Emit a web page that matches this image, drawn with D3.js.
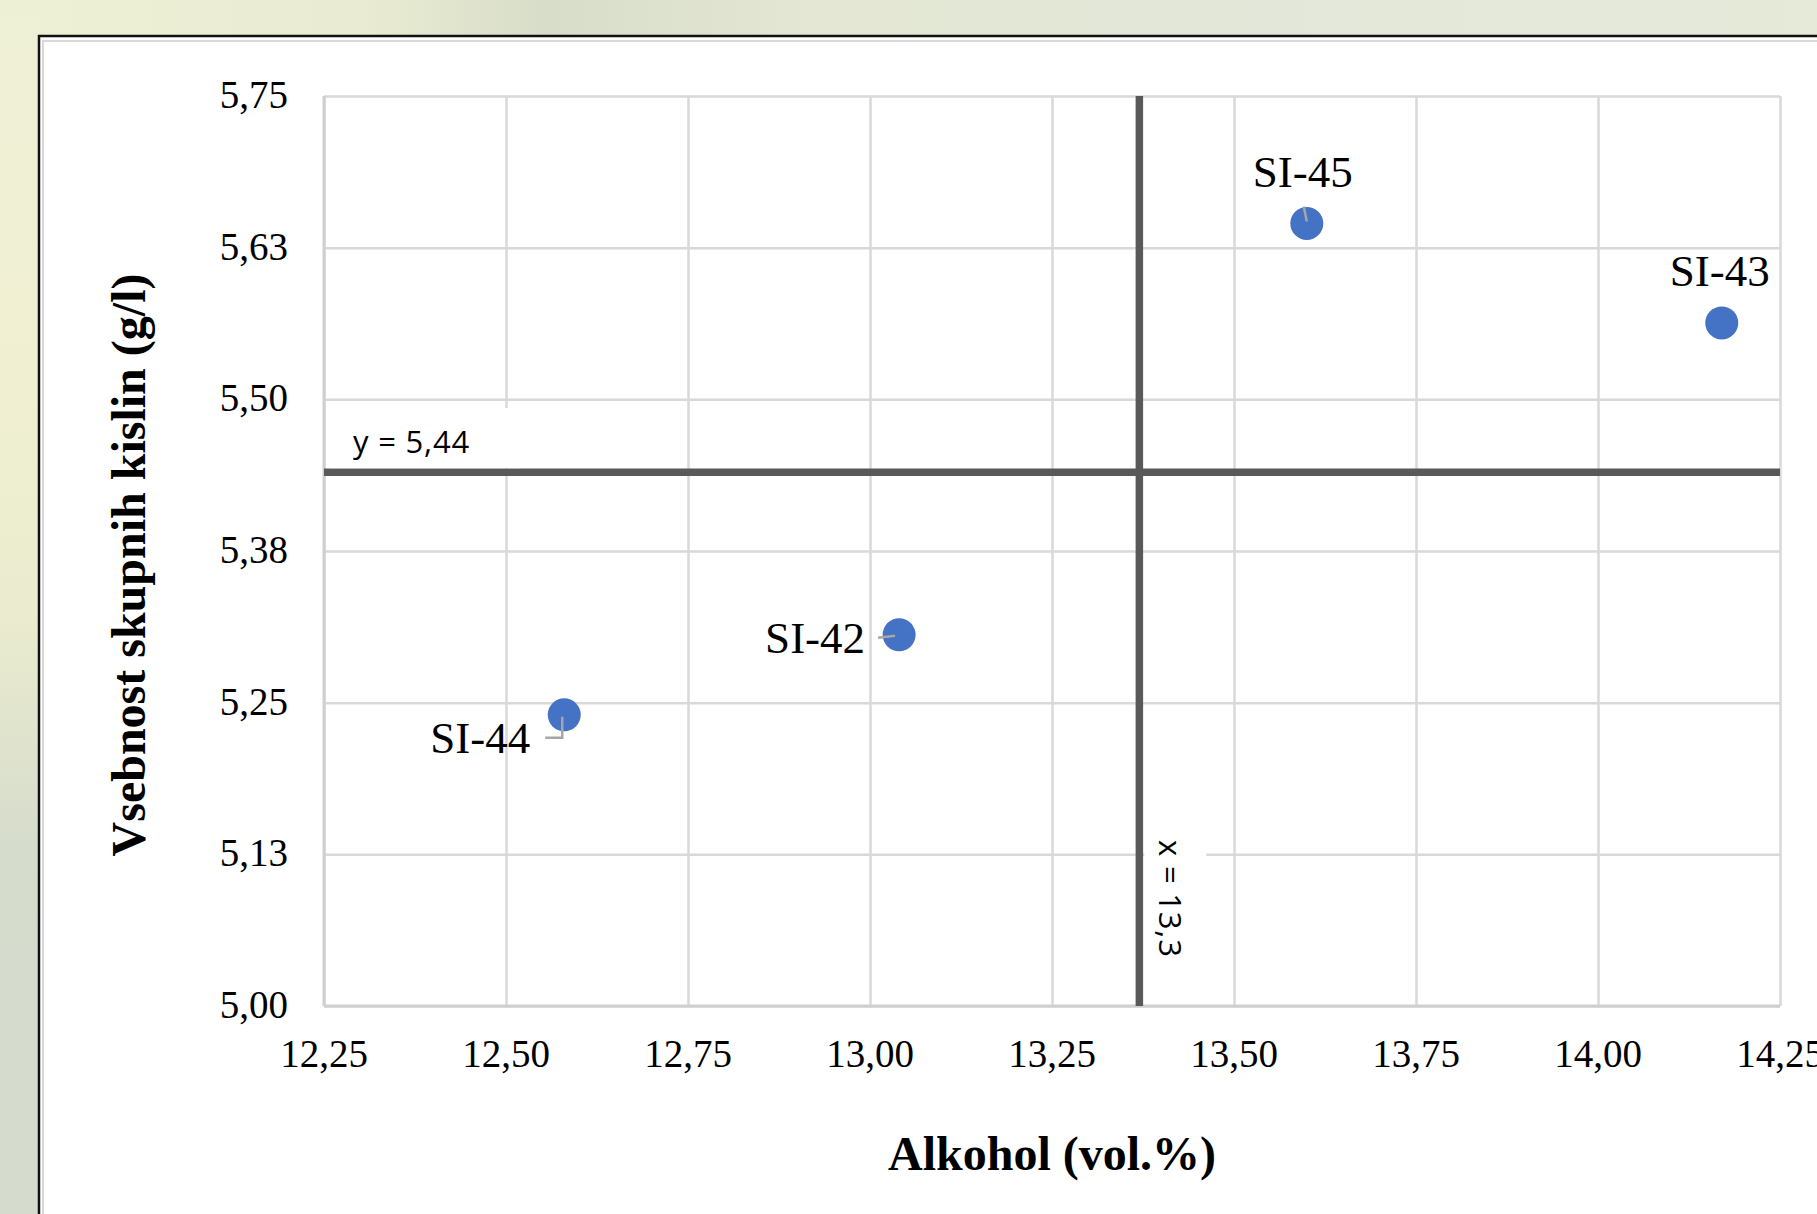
<!DOCTYPE html>
<html>
<head>
<meta charset="utf-8">
<script src="https://cdn.jsdelivr.net/npm/d3@7"></script>
<style>
  html, body { margin: 0; padding: 0; background: #e4e8d8; overflow: hidden; }
  svg { display: block; }
</style>
</head>
<body>
<svg id="chart" width="1817" height="1214"></svg>
<script>
// ---- data ----
const sampleNames = ["SI-45", "SI-43", "SI-42", "SI-44"];
const alcoholValues = [13.60, 14.17, 13.04, 12.58];
const acidValues = [5.645, 5.563, 5.306, 5.240];
const xTickValues = [12.25, 12.50, 12.75, 13.00, 13.25, 13.50, 13.75, 14.00, 14.25];
const xTickLabels = ["12,25", "12,50", "12,75", "13,00", "13,25", "13,50", "13,75", "14,00", "14,25"];
const yTickValues = [5.00, 5.125, 5.25, 5.375, 5.50, 5.625, 5.75];
const yTickLabels = ["5,00", "5,13", "5,25", "5,38", "5,50", "5,63", "5,75"];
const refX = 13.37, refXLabel = "x = 13,3";
const refY = 5.44, refYLabel = "y = 5,44";
const xTitle = "Alkohol (vol.%)";
const yTitle = "Vsebnost skupnih kislin (g/l)";

// ---- layout ----
const W = 1817, H = 1214;
const plot = { left: 324, top: 96, right: 1780, bottom: 1006 };
const serif = "'Liberation Serif', 'Times New Roman', serif";
const sans = "'Open Sans', 'Liberation Sans', sans-serif";

const svg = d3.select("#chart");
const defs = svg.append("defs");

// blurred photo-like background
const gTop = defs.append("linearGradient").attr("id", "bgTop").attr("x1", 0).attr("x2", 1).attr("y1", 0).attr("y2", 0);
[["0%", "#eef0d6"], ["20%", "#e9ecd2"], ["30%", "#d8ddc9"], ["45%", "#e3e7d3"], ["70%", "#e2e7d9"], ["100%", "#e6ead9"]]
  .forEach(([o, c]) => gTop.append("stop").attr("offset", o).attr("stop-color", c));
const gLeft = defs.append("linearGradient").attr("id", "bgLeft").attr("x1", 0).attr("x2", 0).attr("y1", 0).attr("y2", 1);
[["0%", "#eef0d6"], ["30%", "#f0efd2"], ["50%", "#ebeccf"], ["70%", "#d6dccc"], ["100%", "#d5dbcd"]]
  .forEach(([o, c]) => gLeft.append("stop").attr("offset", o).attr("stop-color", c));

svg.append("rect").attr("x", 0).attr("y", 0).attr("width", W).attr("height", H).attr("fill", "url(#bgTop)");
svg.append("rect").attr("x", 0).attr("y", 0).attr("width", 40).attr("height", H).attr("fill", "url(#bgLeft)");

// chart frame
svg.append("rect").attr("x", 39).attr("y", 36).attr("width", W).attr("height", H)
  .attr("fill", "#ffffff").attr("stroke", "#111").attr("stroke-width", 2.5);
svg.append("rect").attr("x", 43).attr("y", 41).attr("width", W).attr("height", H)
  .attr("fill", "none").attr("stroke", "#d9d9d9").attr("stroke-width", 2);

// scales
const x = d3.scaleLinear().domain([12.25, 14.25]).range([plot.left, plot.right]);
const y = d3.scaleLinear().domain([5.00, 5.75]).range([plot.bottom, plot.top]);

// gridlines via axes
const gridColor = "#d9d9d9";
const gx = svg.append("g").attr("transform", `translate(0,${plot.bottom})`)
  .call(d3.axisBottom(x).tickValues(xTickValues).tickSize(-(plot.bottom - plot.top)).tickFormat(""));
const gy = svg.append("g").attr("transform", `translate(${plot.left},0)`)
  .call(d3.axisLeft(y).tickValues(yTickValues).tickSize(-(plot.right - plot.left)).tickFormat(""));
[gx, gy].forEach(g => {
  g.select(".domain").remove();
  g.selectAll(".tick line").attr("stroke", gridColor).attr("stroke-width", 2.5);
});
// axis base lines (slightly darker)
svg.append("line").attr("x1", x(12.25)).attr("x2", x(14.25)).attr("y1", y(5.0)).attr("y2", y(5.0))
  .attr("stroke", "#cfcfcf").attr("stroke-width", 3);
svg.append("line").attr("x1", x(12.25)).attr("x2", x(12.25)).attr("y1", y(5.0)).attr("y2", y(5.75))
  .attr("stroke", "#cfcfcf").attr("stroke-width", 3);

// tick labels
svg.append("g").selectAll("text").data(xTickValues).join("text")
  .attr("x", d => x(d)).attr("y", 1067)
  .attr("text-anchor", "middle").attr("font-family", serif).attr("font-size", 39).attr("fill", "#000")
  .text((d, i) => xTickLabels[i]);
svg.append("g").selectAll("text").data(yTickValues).join("text")
  .attr("x", 288).attr("y", d => y(d) + 12)
  .attr("text-anchor", "end").attr("font-family", serif).attr("font-size", 39).attr("fill", "#000")
  .text((d, i) => yTickLabels[i]);

// reference lines
const refColor = "#595959";
svg.append("line").attr("x1", x(12.25)).attr("x2", x(14.25)).attr("y1", y(refY)).attr("y2", y(refY))
  .attr("stroke", refColor).attr("stroke-width", 7.5);
svg.append("line").attr("x1", x(refX)).attr("x2", x(refX)).attr("y1", y(5.75)).attr("y2", y(5.0))
  .attr("stroke", refColor).attr("stroke-width", 7.5);

// reference labels with white boxes
svg.append("rect").attr("x", x(12.25) + 6).attr("y", y(refY) - 64).attr("width", 190).attr("height", 60).attr("fill", "#fff");
svg.append("text").attr("x", x(12.25) + 29).attr("y", y(refY) - 19)
  .attr("font-family", sans).attr("font-size", 31).attr("letter-spacing", 0.8).attr("fill", "#000").text(refYLabel);

svg.append("rect").attr("x", x(refX) + 5).attr("y", 832).attr("width", 62).attr("height", 150).attr("fill", "#fff");
svg.append("text").attr("transform", `translate(${x(refX) + 20},${840}) rotate(90)`)
  .attr("font-family", sans).attr("font-size", 31).attr("letter-spacing", 0.8).attr("fill", "#000").text(refXLabel);

// points
const pts = sampleNames.map((n, i) => ({ name: n, xv: alcoholValues[i], yv: acidValues[i] }));
// label placement (pixel offsets from point center)
const labelPlace = {
  "SI-45": { dx: -4, dy: -36, anchor: "middle", leader: [[-3, -17], [0, -2]] },
  "SI-43": { dx: -2, dy: -37, anchor: "middle", leader: null },
  "SI-42": { dx: -34, dy: 18, anchor: "end", leader: [[-21, 3], [-4, 1]] },
  "SI-44": { dx: -34, dy: 38, anchor: "end", leader: [[-19, 23], [-2, 23], [-2, 2]] }
};

svg.append("g").selectAll("circle").data(pts).join("circle")
  .attr("cx", d => x(d.xv)).attr("cy", d => y(d.yv)).attr("r", 16.5).attr("fill", "#4472c4");

svg.append("g").selectAll("path").data(pts.filter(d => labelPlace[d.name].leader)).join("path")
  .attr("d", d => {
    const cx = x(d.xv), cy = y(d.yv);
    return d3.line()(labelPlace[d.name].leader.map(([a, b]) => [cx + a, cy + b]));
  })
  .attr("fill", "none").attr("stroke", "#a6a6a6").attr("stroke-width", 2.5);

svg.append("g").selectAll("text").data(pts).join("text")
  .attr("x", d => x(d.xv) + labelPlace[d.name].dx)
  .attr("y", d => y(d.yv) + labelPlace[d.name].dy)
  .attr("text-anchor", d => labelPlace[d.name].anchor)
  .attr("font-family", serif).attr("font-size", 45).attr("fill", "#000")
  .text(d => d.name);

// axis titles
svg.append("text").attr("x", (plot.left + plot.right) / 2).attr("y", 1170)
  .attr("text-anchor", "middle").attr("font-family", serif).attr("font-weight", "bold")
  .attr("font-size", 48).attr("fill", "#000").text(xTitle);
svg.append("text").attr("transform", `translate(145,565) rotate(-90)`)
  .attr("text-anchor", "middle").attr("font-family", serif).attr("font-weight", "bold")
  .attr("font-size", 48).attr("fill", "#000").text(yTitle);
</script>
</body>
</html>
